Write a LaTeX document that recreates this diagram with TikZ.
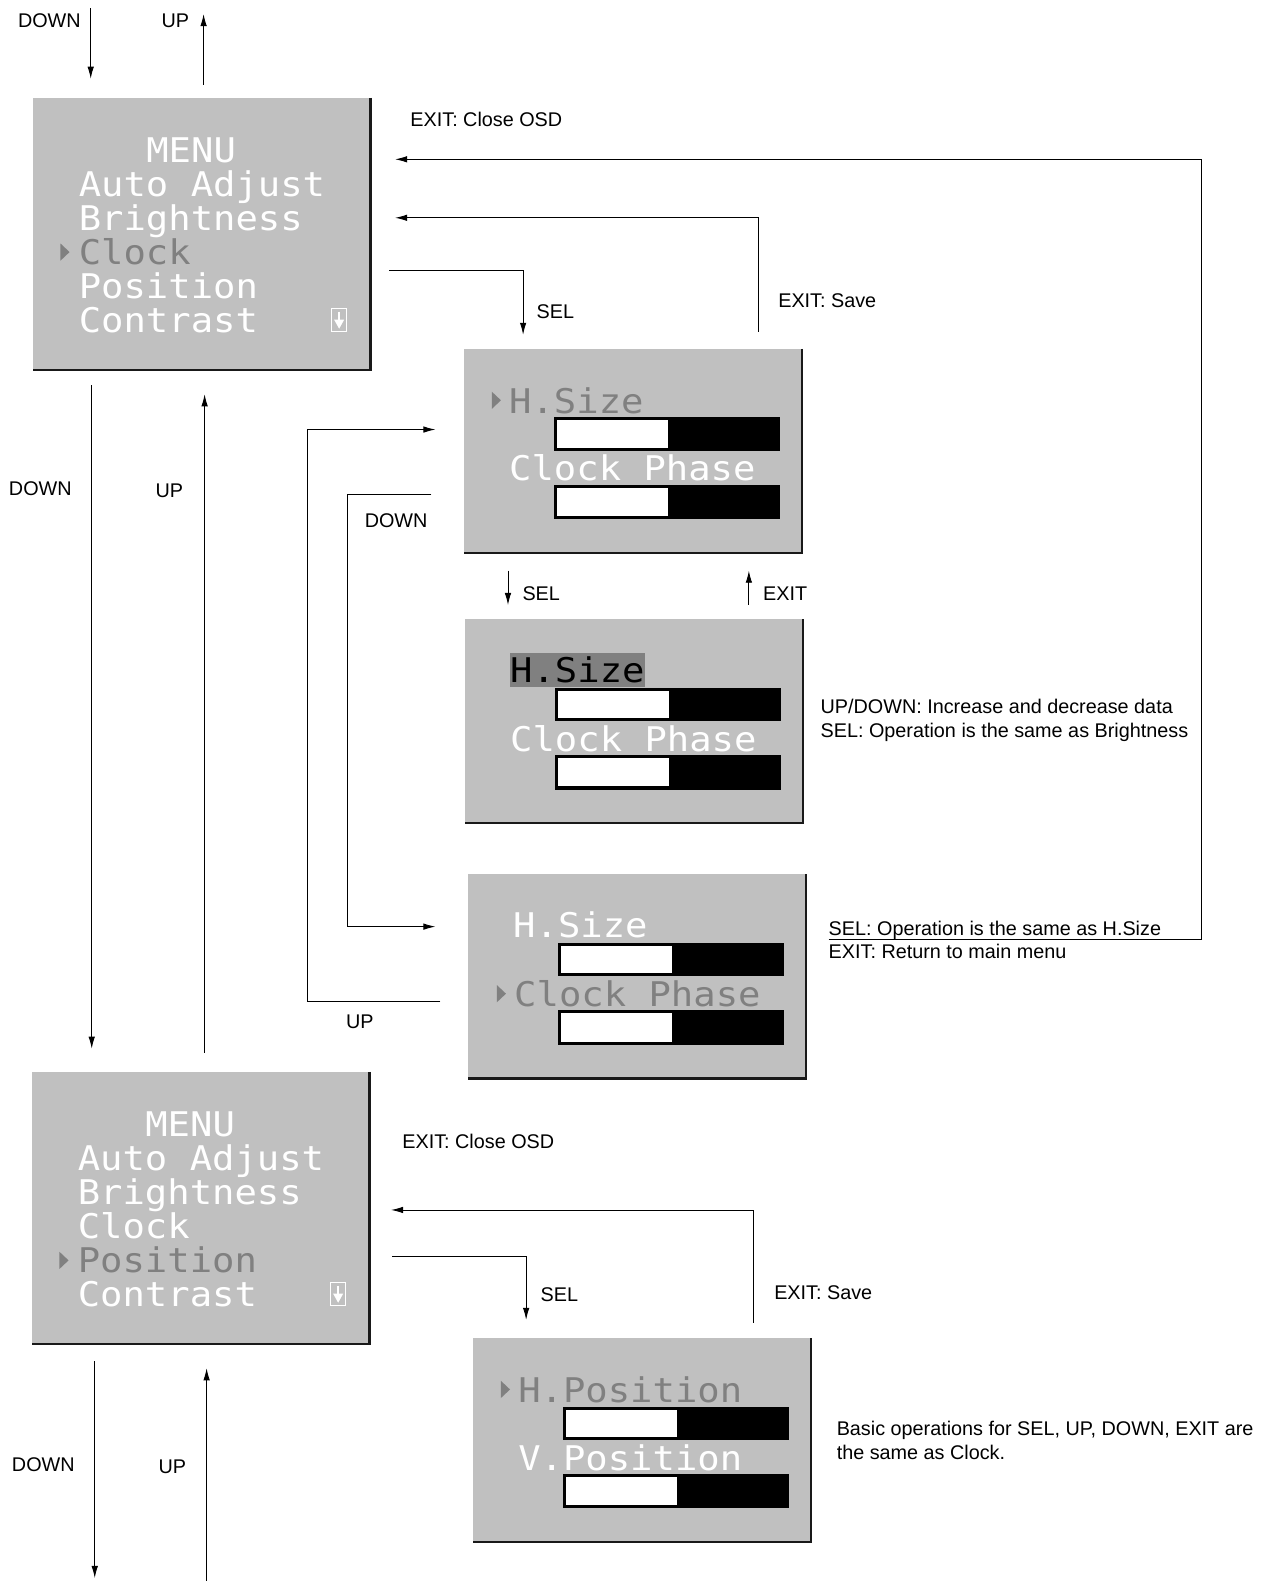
\documentclass[tikz,border=0pt]{standalone}
\usepackage{fontspec}
\setmainfont{Liberation Sans}
\newfontfamily\osdfont[FakeStretch=1.094]{DejaVu Sans Mono}
\usetikzlibrary{arrows.meta,calc}

\definecolor{osdgray}{RGB}{192,192,192}
\definecolor{selgray}{RGB}{128,128,128}
\definecolor{edgecol}{RGB}{25,25,25}

\tikzset{
  lbl/.style={font=\fontsize{19.8}{23}\selectfont, inner sep=0pt, text height=14.2pt, text depth=0pt},
  osdtxt/.style={font=\osdfont\fontsize{34}{38}\selectfont, text=white, inner sep=0pt, anchor=base west, text height=25pt, text depth=0pt},
  conn/.style={line width=0.9pt},
  arr/.style={conn, -{Latex[length=12pt,width=6.5pt]}},
  boxface/.style={fill=osdgray, draw=none, inner sep=0pt, anchor=north west},
  boxedge/.style={draw=edgecol, line width=2.5pt},
}

\newcommand\osdmark[3]{\fill[selgray] ($(#1.north west)+(#2,#3-8.5)$) -- ++(9,8.5) -- ++(-9,8.5) -- cycle;}

\newcommand\osdmain[5]{%
  \node[boxface, minimum width=336.6pt, minimum height=272pt] (#1) at (#2,#3) {};
  \draw[boxedge] (#1.north east) -- (#1.south east) -- (#1.south west);
  \node[osdtxt] (#1-menu) at ($(#1.north west)+(112,64)$) {MENU};
  \node[osdtxt] (#1-auto) at ($(#1.north west)+(45,98)$) {Auto Adjust};
  \node[osdtxt] (#1-bri) at ($(#1.north west)+(45,132)$) {Brightness};
  \node[osdtxt,text=#4] (#1-clk) at ($(#1.north west)+(45,165)$) {Clock};
  \node[osdtxt,text=#5] (#1-pos) at ($(#1.north west)+(45,199)$) {Position};
  \node[osdtxt] (#1-con) at ($(#1.north west)+(45,233)$) {Contrast};
  \draw[white, line width=1.3pt] ($(#1.north west)+(296,209)$) rectangle ($(#1.north west)+(311,232)$);
  \draw[white, line width=2pt] ($(#1.north west)+(303.5,212)$) -- ($(#1.north west)+(303.5,222)$);
  \fill[white] ($(#1.north west)+(298.5,220)$) -- ($(#1.north west)+(308.5,220)$) -- ($(#1.north west)+(303.5,229)$) -- cycle;
}

\newcommand\osdsub[3]{%
  \node[boxface, minimum width=338pt, minimum height=203.7pt] (#1) at (#2,#3) {};
  \draw[boxedge] (#1.north east) -- (#1.south east) -- (#1.south west);
  \fill[black] ($(#1.north west)+(90,68)$) rectangle ($(#1.north west)+(314,101)$);
  \fill[white] ($(#1.north west)+(93,71)$) rectangle ($(#1.north west)+(203,98)$);
  \fill[black] ($(#1.north west)+(90,135)$) rectangle ($(#1.north west)+(314,169)$);
  \fill[white] ($(#1.north west)+(93,138)$) rectangle ($(#1.north west)+(203,166)$);
}

\begin{document}
\begin{tikzpicture}[x=1.00791pt, y=-1.00829pt]
\useasboundingbox (0,0) rectangle (1264,1568);

% ---------- OSD boxes ----------
\osdmain{b1}{33}{97}{selgray}{white}
\osdmark{b1}{27}{153}

\osdsub{b2}{460}{346}
\osdmark{b2}{28}{51}
\node[osdtxt,text=selgray] (b2-l1) at ($(b2.north west)+(45,64)$) {H.Size};
\node[osdtxt] (b2-l2) at ($(b2.north west)+(45,131)$) {Clock Phase};

\osdsub{b3}{461}{614}
\fill[selgray] ($(b3.north west)+(45,34)$) rectangle ($(b3.north west)+(179,67)$);
\node[osdtxt,text=black] (b3-l1) at ($(b3.north west)+(45,63)$) {H.Size};
\node[osdtxt] (b3-l2) at ($(b3.north west)+(45,131)$) {Clock Phase};

\osdsub{b4}{464}{867}
\node[osdtxt] (b4-l1) at ($(b4.north west)+(45,63)$) {H.Size};
\osdmark{b4}{29}{118.5}
\node[osdtxt,text=selgray] (b4-l2) at ($(b4.north west)+(46,131)$) {Clock Phase};

\osdmain{b5}{32}{1063}{white}{selgray}
\osdmark{b5}{27}{187}

\osdsub{b6}{469}{1327}
\osdmark{b6}{28}{51}
\node[osdtxt,text=selgray] (b6-l1) at ($(b6.north west)+(45,64)$) {H.Position};
\node[osdtxt] (b6-l2) at ($(b6.north west)+(45,131)$) {V.Position};

% ---------- labels ----------
\node[lbl] (ltdown) at (49,20) {DOWN};
\node[lbl] (ltup) at (174,20) {UP};
\node[lbl, anchor=west] (lclose1) at (407,118) {EXIT: Close OSD};
\node[lbl] (lsel1) at (551,309) {SEL};
\node[lbl, anchor=west] (lsave1) at (772,298) {EXIT: Save};
\node[lbl] (lmdown) at (40,484) {DOWN};
\node[lbl] (lmup) at (168,486) {UP};
\node[lbl] (lidown) at (393,516) {DOWN};
\node[lbl] (loup) at (357,1013) {UP};
\node[lbl] (lsel2) at (537,589) {SEL};
\node[lbl] (lexit2) at (779,589) {EXIT};
\node[lbl, anchor=west] (ln1) at (814,701) {UP/DOWN: Increase and decrease data};
\node[lbl, anchor=west] (ln2) at (814,724) {SEL: Operation is the same as Brightness};
\node[lbl, anchor=west] (ln3) at (822,921) {SEL: Operation is the same as H.Size};
\node[lbl, anchor=west] (ln4) at (822,944) {EXIT: Return to main menu};
\node[lbl, anchor=west] (lclose2) at (399,1132) {EXIT: Close OSD};
\node[lbl] (lsel3) at (555,1284) {SEL};
\node[lbl, anchor=west] (lsave2) at (768,1282) {EXIT: Save};
\node[lbl, anchor=west] (ln5) at (830,1417) {Basic operations for SEL, UP, DOWN, EXIT are};
\node[lbl, anchor=west] (ln6) at (830,1440) {the same as Clock.};
\node[lbl] (lbdown) at (43,1452) {DOWN};
\node[lbl] (lbup) at (171,1454) {UP};

% ---------- connector end points ----------
\coordinate (td0) at (90,8);     \coordinate (td1) at (90,78);
\coordinate (tu0) at (202,84);   \coordinate (tu1) at (202,14);
\coordinate (cl0) at (822,932);  \coordinate (cl1) at (1192,932);
\coordinate (cl2) at (1192,158); \coordinate (cl3) at (392,158);
\coordinate (sv0) at (752,329);  \coordinate (sv1) at (752,216);
\coordinate (sv2) at (392,216);
\coordinate (se0) at (386,268);  \coordinate (se1) at (519,268);
\coordinate (se2) at (519,332);
\coordinate (md0) at (91,382);   \coordinate (md1) at (91,1040);
\coordinate (mu0) at (203,1044); \coordinate (mu1) at (203,391);
\coordinate (s20) at (504,566);  \coordinate (s21) at (504,600);
\coordinate (e20) at (743,600);  \coordinate (e21) at (743,566);
\coordinate (ou0) at (437,993);  \coordinate (ou1) at (305,993);
\coordinate (ou2) at (305,426);  \coordinate (ou3) at (432,426);
\coordinate (id0) at (428,490);  \coordinate (id1) at (345,490);
\coordinate (id2) at (345,919);  \coordinate (id3) at (432,919);
\coordinate (sw0) at (748,1312); \coordinate (sw1) at (748,1200);
\coordinate (sw2) at (388,1200);
\coordinate (ss0) at (389,1246); \coordinate (ss1) at (522,1246);
\coordinate (ss2) at (522,1309);
\coordinate (bd0) at (94,1350);  \coordinate (bd1) at (94,1565);
\coordinate (bu0) at (205,1568); \coordinate (bu1) at (205,1357);

% ---------- connectors ----------
\draw[arr] (td0) -- (td1);
\draw[arr] (tu0) -- (tu1);
\draw[arr] (cl0) -- (cl1) -- (cl2) -- (cl3);
\draw[arr] (sv0) -- (sv1) -- (sv2);
\draw[arr] (se0) -- (se1) -- (se2);
\draw[arr] (md0) -- (md1);
\draw[arr] (mu0) -- (mu1);
\draw[arr] (s20) -- (s21);
\draw[arr] (e20) -- (e21);
\draw[arr] (ou0) -- (ou1) -- (ou2) -- (ou3);
\draw[arr] (id0) -- (id1) -- (id2) -- (id3);
\draw[arr] (sw0) -- (sw1) -- (sw2);
\draw[arr] (ss0) -- (ss1) -- (ss2);
\draw[arr] (bd0) -- (bd1);
\draw[arr] (bu0) -- (bu1);
\end{tikzpicture}
\end{document}
